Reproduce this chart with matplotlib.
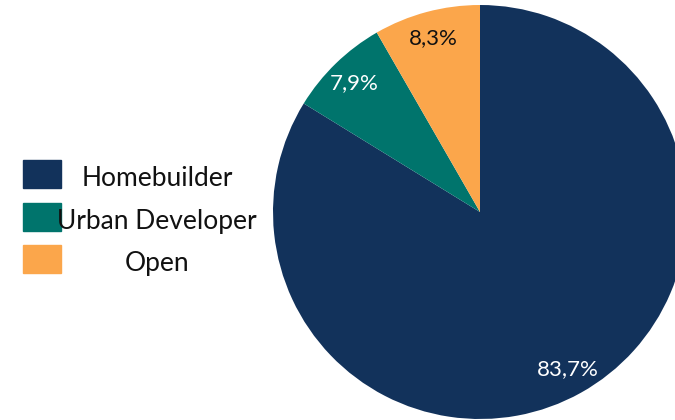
import matplotlib
matplotlib.use("Agg")
import matplotlib.pyplot as plt
from matplotlib.patches import Rectangle

plt.rcParams['font.family'] = ['Lato', 'DejaVu Sans']

categories = ['Homebuilder', 'Urban Developer', 'Open']
values = [83.7, 7.9, 8.3]
colors = ['#12325b', '#00746c', '#fba64b']
text_colors = ['white', 'white', '#111111']
pct_labels = [f"{v:.1f}".replace('.', ',') + '%' for v in values]

fig = plt.figure(figsize=(6.75, 4.2), dpi=100)
ax = fig.add_axes([0, 0, 1, 1])

wedges, texts, autotexts = ax.pie(values, colors=colors, startangle=90, counterclock=False,
                                  center=(480, 208), radius=207, autopct='%1.1f',
                                  pctdistance=0.87, frame=True)
ax.set_xlim(0, 675)
ax.set_ylim(0, 420)
ax.set_aspect('equal')
ax.axis('off')
for t, lab, c in zip(autotexts, pct_labels, text_colors):
    t.set_text(lab)
    t.set_color(c)
    t.set_fontsize(16)

# legend: colour squares with centred labels
for i, (cat, col) in enumerate(zip(categories, colors)):
    y = 420 - 174 - i * 42.5
    ax.add_patch(Rectangle((23, y - 14), 38, 28, color=col))
    ax.text(157, y - 5, cat, ha='center', va='center', fontsize=19, color='#111111')

fig.savefig('out.png', dpi=100)
